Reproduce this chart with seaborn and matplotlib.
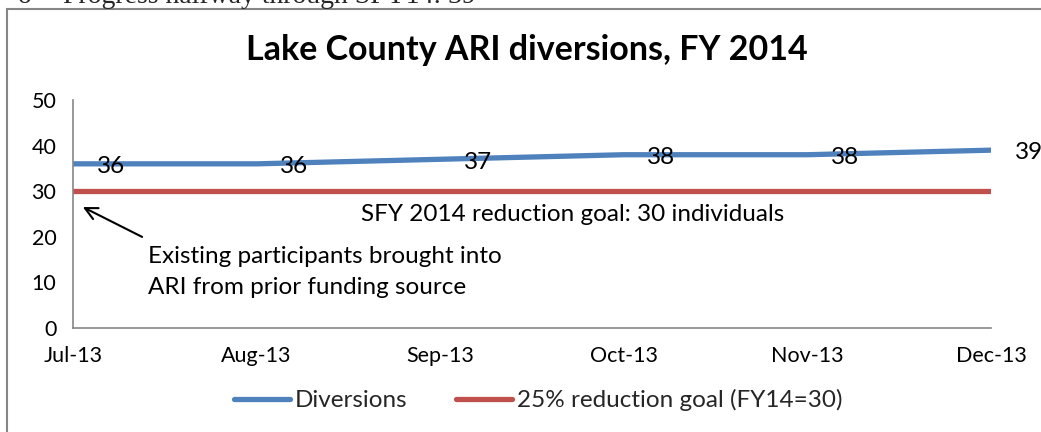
import matplotlib
matplotlib.use("Agg")
import matplotlib.pyplot as plt
import matplotlib.patches as mpatches
import seaborn as sns
import pandas as pd

months = ["Jul-13", "Aug-13", "Sep-13", "Oct-13", "Nov-13", "Dec-13"]
diversions = [36, 36, 37, 38, 38, 39]
goal = [30, 30, 30, 30, 30, 30]
yticks = [0, 10, 20, 30, 40, 50]

sns.set_theme(style="white")
plt.rcParams['font.family'] = ['Lato', 'DejaVu Sans']

df = pd.DataFrame({
    "Month": months * 2,
    "Value": diversions + goal,
    "Series": ["Diversions"] * len(months) + ["25% reduction goal (FY14=30)"] * len(months),
})

fig = plt.figure(figsize=(10.41, 4.32), dpi=100)
ax = fig.add_axes([73/1041, 1-328/432, (991-73)/1041, (328-100)/432])

palette = {"Diversions": "#4F81BD", "25% reduction goal (FY14=30)": "#C0504D"}
sns.lineplot(data=df, x="Month", y="Value", hue="Series", palette=palette,
             linewidth=3.8, ax=ax, sort=False, legend=True)

ax.set_xlim(0, len(months) - 1)
ax.set_ylim(0, 50)
ax.set_yticks(yticks)
ax.set_xlabel("")
ax.set_ylabel("")
for s in ["top", "right"]:
    ax.spines[s].set_visible(False)
for s in ["left", "bottom"]:
    ax.spines[s].set_color("#868686")
    ax.spines[s].set_linewidth(1.2)
ax.tick_params(axis="both", which="both", direction="out", length=5, width=1.2,
               color="#868686", labelsize=15.5, labelcolor="black", pad=8)
ax.tick_params(axis="y", pad=7)

lab_fs = 17.5
# data labels
for i, v in enumerate(diversions):
    ax.annotate(str(v), (i, v), xytext=(17, -2), textcoords="offset points",
                ha="left", va="center", fontsize=lab_fs, color="black")

ax.text(2.72, 24.8, "SFY 2014 reduction goal: 30 individuals", ha="center", va="center",
        fontsize=lab_fs, color="black")
ax.text(0.41, 12.3, "Existing participants brought into\nARI from prior funding source",
        ha="left", va="center", fontsize=lab_fs, color="black", linespacing=1.55)
ax.annotate("", xy=(0.04, 26.8), xytext=(0.39, 19.7),
            arrowprops=dict(arrowstyle="->", color="black", lw=1.5,
                            mutation_scale=22))

handles, labels = ax.get_legend_handles_labels()
ax.legend(handles, labels, loc="center", bbox_to_anchor=(538/1041, 1-400/432),
          bbox_transform=fig.transFigure, ncol=2, frameon=False, fontsize=lab_fs,
          handlelength=2.3, handletextpad=0.2, columnspacing=2.0)

fig.text(527/1041, 1-50/432, "Lake County ARI diversions, FY 2014", ha="center",
         va="center", fontsize=24.5, fontweight="bold", color="black")

# outer chart border (extends past figure edges)
fig.patches.append(mpatches.Rectangle((7/1041, -0.05), 1.1, 1-9/432+0.05,
                                      transform=fig.transFigure, fill=False,
                                      edgecolor="#868686", linewidth=1.5,
                                      clip_on=False))

# clipped heading above chart
fig.text(18/1041, 1-3/432, "o", family=["Liberation Serif"], fontsize=20,
         ha="left", va="baseline")
fig.text(63/1041, 1-3/432, "Progress halfway through SFY14: 39",
         family=["Liberation Serif"], fontsize=20, ha="left", va="baseline")

fig.savefig("out.png", dpi=100, facecolor="white")
